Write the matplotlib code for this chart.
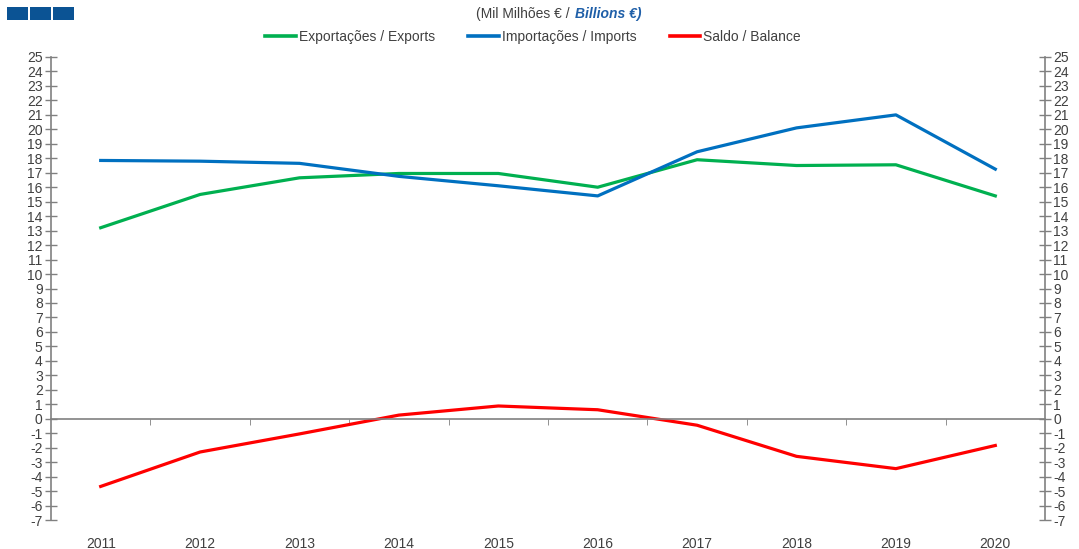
import numpy as np
import matplotlib
matplotlib.use("Agg")
import matplotlib.pyplot as plt
from matplotlib.patches import Rectangle

# Dados (Mil Milhões €)
anos = ["2011", "2012", "2013", "2014", "2015", "2016", "2017", "2018", "2019", "2020"]
exportacoes = [13.2, 15.5, 16.65, 16.95, 16.95, 16.0, 17.9, 17.5, 17.55, 15.4]
importacoes = [17.85, 17.8, 17.65, 16.75, 16.1, 15.4, 18.45, 20.1, 21.0, 17.25]
saldo = [-4.68, -2.3, -1.05, 0.25, 0.88, 0.62, -0.45, -2.6, -3.45, -1.85]

cor_texto = "#404040"
cor_eixo = "#808080"

plt.rcParams["font.family"] = ["Liberation Sans", "DejaVu Sans"]
plt.rcParams["axes.unicode_minus"] = False

fig = plt.figure(figsize=(10.79, 5.49), dpi=100)
ax = fig.add_axes([51 / 1079, 1 - 520 / 549, 994 / 1079, 463 / 549])

x = np.arange(len(anos))
ax.plot(x, exportacoes, color="#00B050", lw=2.3, label="Exportações / Exports")
ax.plot(x, importacoes, color="#0070C0", lw=2.3, label="Importações / Imports")
ax.plot(x, saldo, color="#FF0000", lw=2.3, label="Saldo / Balance")

ax.set_xlim(-0.5, len(anos) - 0.5)
ax.set_ylim(-7, 25)

# eixo y dos dois lados
ax.set_yticks(range(-7, 26))
ax.tick_params(axis="y", which="major", direction="inout", length=8, width=1,
               color=cor_eixo, labelsize=10, labelcolor=cor_texto, pad=2,
               left=True, right=True, labelleft=True, labelright=True)
ax.spines["top"].set_visible(False)
for s in ["left", "right"]:
    ax.spines[s].set_color(cor_eixo)
    ax.spines[s].set_linewidth(1.2)

# linha do zero com marcas entre as categorias
ax.spines["bottom"].set_position(("data", 0))
ax.spines["bottom"].set_color(cor_eixo)
ax.spines["bottom"].set_linewidth(1.2)
ax.set_xticks([])
ax.set_xticks(np.arange(0.5, len(anos) - 0.5), minor=True)
ax.tick_params(axis="x", which="minor", direction="out", length=4, color=cor_eixo)

# rótulos dos anos em baixo
sec = ax.secondary_xaxis(0)
sec.set_xticks(x)
sec.set_xticklabels(anos)
sec.tick_params(length=0, labelsize=10, labelcolor=cor_texto, pad=12)
sec.spines["bottom"].set_visible(False)

# legenda
leg = fig.legend(loc="center", bbox_to_anchor=(533 / 1079, 1 - 37 / 549), ncol=3,
                 frameon=False, fontsize=10, labelcolor=cor_texto, handlelength=2.2,
                 handletextpad=0.2, columnspacing=2.4)
for linha in leg.get_lines():
    linha.set_linewidth(2.6)

# título com unidades
fig.text(573 / 1079, 1 - 14 / 549, "(Mil Milhões € / ", ha="right", va="center",
         fontsize=10, color=cor_texto)
fig.text(575 / 1079, 1 - 14 / 549, "Billions €)", ha="left", va="center",
         fontsize=10, color="#1F5FA8", fontweight="bold", fontstyle="italic")

# logótipo
for i in range(3):
    fig.patches.append(Rectangle(((7 + 23 * i) / 1079, 1 - 20 / 549), 21 / 1079, 13 / 549,
                                 transform=fig.transFigure, facecolor="#0B5394",
                                 edgecolor="none"))

fig.savefig("out.png", dpi=100)
